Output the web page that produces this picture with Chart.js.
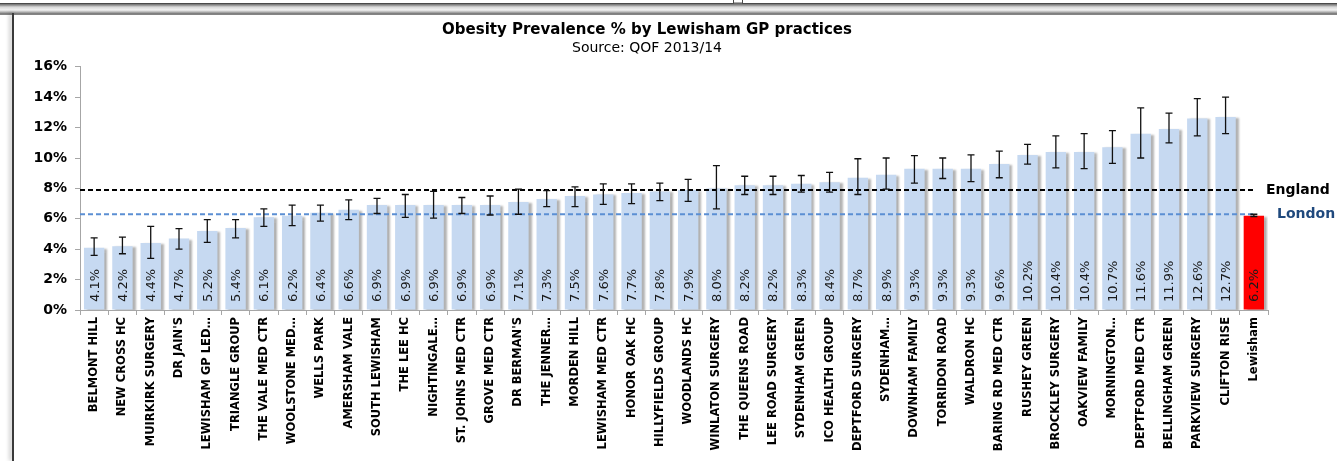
<!DOCTYPE html>
<html>
<head>
<meta charset="utf-8">
<script src="https://cdn.jsdelivr.net/npm/chart.js@4.4.0/dist/chart.umd.min.js"></script>
<style>
  html, body { margin: 0; padding: 0; background: #fff; width: 1337px; height: 461px; overflow: hidden; }
  .band { position: absolute; left: 0; top: 0; width: 1337px; height: 15px;
    background: linear-gradient(to bottom, #fff 0, #fff 2px, #5a5a5a 3px, #8a8a8a 5px, #d8d8d8 7px, #f2f2f2 10px, #b4b4b4 12px, #6e6e6e 14px, #9a9a9a 15px); }
  .box { position: absolute; top: -12px; height: 14px; background: #fff; border: 1px solid #4a4a4a; }
  .edge { position: absolute; left: 12px; top: 13px; width: 2px; height: 448px; background: #3a3a3a;
    box-shadow: -2px 0 4px rgba(0,0,0,0.35); }
  #wrap { position: absolute; left: 14px; top: 15px; width: 1323px; height: 446px; background: #fff; }
</style>
</head>
<body>
<div class="band"></div>
<div class="box" style="left:-2px; width:734px;"></div>
<div class="box" style="left:742px; width:600px;"></div>
<div class="edge"></div>
<div id="wrap"><canvas id="chart"></canvas></div>
<script>
const practices = [
    'BELMONT HILL', 'NEW CROSS HC', 'MUIRKIRK SURGERY', "DR JAIN'S", 'LEWISHAM GP LED…',
    'TRIANGLE GROUP', 'THE VALE MED CTR', 'WOOLSTONE MED…', 'WELLS PARK', 'AMERSHAM VALE',
    'SOUTH LEWISHAM', 'THE LEE HC', 'NIGHTINGALE…', 'ST. JOHNS MED CTR', 'GROVE MED CTR',
    "DR BERMAN'S", 'THE JENNER…', 'MORDEN HILL', 'LEWISHAM MED CTR', 'HONOR OAK HC',
    'HILLYFIELDS GROUP', 'WOODLANDS HC', 'WINLATON SURGERY', 'THE QUEENS ROAD', 'LEE ROAD SURGERY',
    'SYDENHAM GREEN', 'ICO HEALTH GROUP', 'DEPTFORD SURGERY', 'SYDENHAM…', 'DOWNHAM FAMILY',
    'TORRIDON ROAD', 'WALDRON HC', 'BARING RD MED CTR', 'RUSHEY GREEN', 'BROCKLEY SURGERY',
    'OAKVIEW FAMILY', 'MORNINGTON…', 'DEPTFORD MED CTR', 'BELLINGHAM GREEN', 'PARKVIEW SURGERY',
    'CLIFTON RISE', 'Lewisham'
];
const prevalence = [
    4.1, 4.2, 4.4, 4.7, 5.2, 5.4, 6.1, 6.2, 6.4, 6.6,
    6.9, 6.9, 6.9, 6.9, 6.9, 7.1, 7.3, 7.5, 7.6, 7.7,
    7.8, 7.9, 8.0, 8.2, 8.2, 8.3, 8.4, 8.7, 8.9, 9.3,
    9.3, 9.3, 9.6, 10.2, 10.4, 10.4, 10.7, 11.6, 11.9, 12.6,
    12.7, 6.2
];
const ciUpper = [
    4.75, 4.8, 5.5, 5.35, 5.95, 5.95, 6.65, 6.9, 6.9, 7.25,
    7.35, 7.6, 7.8, 7.4, 7.5, 7.95, 7.85, 8.1, 8.3, 8.3,
    8.35, 8.6, 9.5, 8.8, 8.8, 8.85, 9.05, 9.95, 10.0, 10.15,
    10.0, 10.2, 10.45, 10.9, 11.45, 11.6, 11.8, 13.3, 12.95, 13.9,
    14.0, 6.3
];
const ciLower = [
    3.6, 3.7, 3.4, 4.0, 4.45, 4.75, 5.5, 5.55, 5.85, 5.95,
    6.35, 6.1, 6.05, 6.35, 6.25, 6.3, 6.8, 6.8, 6.95, 7.0,
    7.2, 7.15, 6.65, 7.6, 7.6, 7.75, 7.75, 7.6, 7.95, 8.35,
    8.65, 8.45, 8.7, 9.6, 9.35, 9.3, 9.65, 10.0, 11.0, 11.45,
    11.6, 6.15
];
const englandRate = 7.9;
const londonRate = 6.3;
const yMax = 16;
const yStep = 2;

const FONT = '"DejaVu Sans", Verdana, sans-serif';
const lastIdx = practices.length - 1;

// soft grey shadow on the right of each bar, like the Excel original
const barShadow = {
    id: 'barShadow',
    beforeDatasetDraw(chart, args) {
        if (args.meta.type !== 'bar') return;
        const c = chart.ctx;
        c.save();
        c.shadowColor = 'rgba(0,0,0,0.3)';
        c.shadowOffsetX = 3;
        c.shadowOffsetY = 1;
        c.shadowBlur = 2;
    },
    afterDatasetDraw(chart, args) {
        if (args.meta.type !== 'bar') return;
        chart.ctx.restore();
    }
};

const barExtras = {
    id: 'barExtras',
    afterDatasetsDraw(chart) {
        const c = chart.ctx;
        const meta = chart.getDatasetMeta(0);
        const y = chart.scales.y;
        const base = y.getPixelForValue(0);
        c.save();

        // confidence interval whiskers
        c.strokeStyle = '#111';
        c.lineWidth = 1.3;
        meta.data.forEach((bar, i) => {
            const top = y.getPixelForValue(ciUpper[i]);
            const bot = y.getPixelForValue(ciLower[i]);
            c.beginPath();
            c.moveTo(bar.x, top); c.lineTo(bar.x, bot);
            c.moveTo(bar.x - 3.5, top); c.lineTo(bar.x + 3.5, top);
            c.moveTo(bar.x - 3.5, bot); c.lineTo(bar.x + 3.5, bot);
            c.stroke();
        });

        // vertical value labels inside the bars
        c.font = '13px ' + FONT;
        c.fillStyle = '#1a1a1a';
        c.textAlign = 'left';
        c.textBaseline = 'middle';
        meta.data.forEach((bar, i) => {
            c.save();
            c.translate(bar.x + 1, base - 8);
            c.rotate(-Math.PI / 2);
            c.fillText(prevalence[i].toFixed(1) + '%', 0, 0);
            c.restore();
        });

        // reference line names
        const right = chart.chartArea.right;
        c.font = 'bold 14px ' + FONT;
        c.fillStyle = '#000';
        c.fillText('England', right - 2, y.getPixelForValue(englandRate));
        c.fillStyle = '#1f497d';
        c.fillText('London', right + 9, y.getPixelForValue(londonRate));
        c.restore();
    }
};

new Chart(document.getElementById('chart'), {
    data: {
        labels: practices,
        datasets: [
            {
                type: 'bar',
                data: prevalence,
                backgroundColor: practices.map(p => p === 'Lewisham' ? '#ff0000' : '#c6d9f1'),
                borderWidth: 0,
                grouped: false,
                barPercentage: 0.72,
                categoryPercentage: 1,
                order: 2
            },
            {
                type: 'line',
                xAxisID: 'x2',
                data: [{ x: -0.5, y: englandRate }, { x: lastIdx, y: englandRate }],
                borderColor: '#000',
                borderWidth: 2,
                borderDash: [5, 3],
                pointRadius: 0,
                order: 1
            },
            {
                type: 'line',
                xAxisID: 'x2',
                data: [{ x: -0.5, y: londonRate }, { x: lastIdx, y: londonRate }],
                borderColor: '#5b8fd3',
                borderWidth: 2,
                borderDash: [5, 3],
                pointRadius: 0,
                order: 1
            }
        ]
    },
    plugins: [barShadow, barExtras],
    options: {
        responsive: true,
        maintainAspectRatio: false,
        animation: false,
        layout: { padding: { left: 12, right: 69, top: 0, bottom: 0 } },
        plugins: {
            legend: { display: false },
            tooltip: { enabled: false },
            title: {
                display: true,
                text: 'Obesity Prevalence % by Lewisham GP practices',
                color: '#000',
                font: { family: FONT, size: 15, weight: 'bold' },
                padding: { top: 6, bottom: 1 }
            },
            subtitle: {
                display: true,
                text: 'Source: QOF 2013/14',
                color: '#000',
                font: { family: FONT, size: 14 },
                padding: { top: 0, bottom: 10 }
            }
        },
        scales: {
            x: {
                offset: true,
                grid: { drawOnChartArea: false, offset: true, tickLength: 5, color: '#a6a6a6' },
                border: { color: '#a6a6a6' },
                ticks: {
                    autoSkip: false,
                    minRotation: 90,
                    maxRotation: 90,
                    padding: 2,
                    color: '#000',
                    font: { family: FONT, size: 11.5, weight: 'bold' }
                },
                afterFit(s) { s.height = 151; }
            },
            x2: {
                type: 'linear',
                display: false,
                min: -0.5,
                max: lastIdx + 0.5
            },
            y: {
                min: 0,
                max: yMax,
                grid: { drawOnChartArea: false, tickLength: 5, color: '#a6a6a6' },
                border: { color: '#a6a6a6' },
                ticks: {
                    stepSize: yStep,
                    padding: 8,
                    color: '#000',
                    font: { family: FONT, size: 14, weight: 'bold' },
                    callback: v => v + '%'
                },
                afterFit(s) { s.width = 54; }
            }
        }
    }
});
</script>
</body>
</html>
